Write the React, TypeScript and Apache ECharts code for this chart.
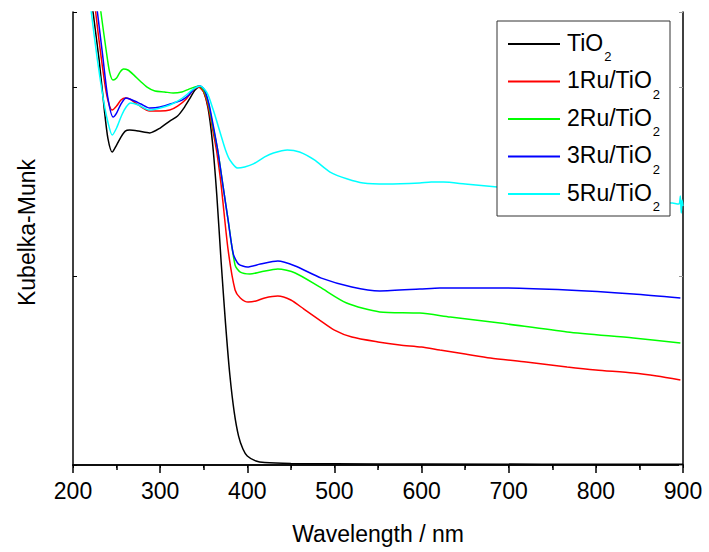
import React, { useEffect, useRef } from "react";
import * as echarts from "echarts";

// [wavelength (nm), Kubelka-Munk (a.u.)]
const tio2: [number, number][] = [
  [218, 2.619], [223, 2.397], [230, 2.143], [236, 1.878], [240, 1.73], [245, 1.656],
  [250, 1.693], [255, 1.735], [260, 1.767], [265, 1.772], [275, 1.767], [288, 1.757],
  [300, 1.783], [311, 1.82], [320, 1.847], [328, 1.894], [335, 1.947], [340, 1.984],
  [345, 2.0], [350, 1.974], [355, 1.889], [360, 1.709], [365, 1.429], [370, 1.074],
  [375, 0.751], [380, 0.476], [385, 0.28], [390, 0.153], [395, 0.085], [400, 0.048],
  [410, 0.021], [420, 0.013], [450, 0.008], [500, 0.006], [600, 0.005], [900, 0.004],
];

const ru1: [number, number][] = [
  [221, 2.619], [226, 2.397], [232, 2.169], [238, 1.974], [242, 1.899], [245, 1.878],
  [250, 1.899], [255, 1.931], [260, 1.942], [265, 1.937], [275, 1.905], [288, 1.873],
  [300, 1.873], [311, 1.878], [320, 1.899], [330, 1.937], [338, 1.984], [344, 2.0],
  [350, 1.974], [355, 1.899], [360, 1.783], [365, 1.656], [370, 1.481], [378, 1.138],
  [386, 0.926], [392, 0.884], [401, 0.862], [410, 0.868], [420, 0.884], [435, 0.894],
  [450, 0.873], [465, 0.825], [483, 0.767], [500, 0.714], [520, 0.677], [550, 0.651],
  [575, 0.635], [600, 0.624], [621, 0.608], [650, 0.587], [679, 0.566], [720, 0.545],
  [767, 0.519], [800, 0.503], [843, 0.487], [870, 0.471], [897, 0.45],
];

const ru2: [number, number][] = [
  [226, 2.619], [232, 2.397], [238, 2.196], [242, 2.079], [246, 2.037], [250, 2.048],
  [254, 2.079], [258, 2.095], [263, 2.09], [270, 2.063], [277, 2.032], [285, 2.0],
  [294, 1.979], [305, 1.974], [315, 1.968], [325, 1.974], [333, 1.989], [340, 2.0],
  [345, 2.005], [350, 1.984], [355, 1.921], [360, 1.804], [366, 1.667], [372, 1.481],
  [378, 1.296], [386, 1.058], [392, 1.021], [403, 1.011], [415, 1.021], [435, 1.037],
  [455, 1.016], [483, 0.942], [514, 0.857], [552, 0.81], [598, 0.804], [633, 0.783],
  [690, 0.751], [767, 0.704], [843, 0.672], [897, 0.646],
];

const ru3: [number, number][] = [
  [222, 2.619], [228, 2.397], [234, 2.169], [240, 1.942], [246, 1.841], [250, 1.862],
  [255, 1.91], [261, 1.942], [268, 1.931], [278, 1.91], [288, 1.889], [300, 1.894],
  [315, 1.915], [325, 1.931], [333, 1.958], [340, 1.995], [346, 2.005], [351, 1.984],
  [356, 1.91], [361, 1.794], [366, 1.667], [372, 1.481], [378, 1.296], [384, 1.116],
  [390, 1.063], [400, 1.048], [415, 1.063], [435, 1.079], [455, 1.053], [485, 0.989],
  [520, 0.942], [552, 0.921], [598, 0.931], [621, 0.937], [690, 0.937], [767, 0.926],
  [843, 0.905], [897, 0.884],
];

const ru5: [number, number][] = [
  [216, 2.619], [221, 2.397], [228, 2.143], [235, 1.931], [240, 1.815], [245, 1.746],
  [250, 1.783], [256, 1.852], [261, 1.894], [266, 1.915], [275, 1.905], [288, 1.878],
  [300, 1.889], [311, 1.905], [322, 1.931], [330, 1.958], [338, 1.989], [346, 2.005],
  [354, 1.968], [361, 1.878], [369, 1.757], [375, 1.667], [380, 1.614], [389, 1.571],
  [397, 1.577], [407, 1.593], [420, 1.63], [430, 1.651], [446, 1.667], [460, 1.656],
  [477, 1.614], [495, 1.55], [515, 1.513], [533, 1.492], [560, 1.487], [598, 1.492],
  [611, 1.497], [625, 1.497], [650, 1.487], [687, 1.471], [750, 1.444], [820, 1.413],
  [870, 1.392], [888, 1.386], [895, 1.381], [896, 1.386], [897, 1.423], [898, 1.333],
  [899, 1.402], [900, 1.37],
];

const seriesNames = ["TiO2", "1Ru/TiO2", "2Ru/TiO2", "3Ru/TiO2", "5Ru/TiO2"];
const seriesData = [tio2, ru1, ru2, ru3, ru5];
const seriesColors = ["#000000", "#ff0000", "#00ff00", "#0000ff", "#00ffff"];

const xTicks = { min: 200, max: 900, interval: 100 };
const yRange = { min: 0, max: 2.397, interval: 1 };

const FONT = "'Liberation Sans', Arial, Helvetica, sans-serif";

export default function App() {
  const ref = useRef<HTMLDivElement>(null);
  useEffect(() => {
    const chart = echarts.init(ref.current!, null, { renderer: "svg" });
    const axisLine = { show: true, lineStyle: { color: "#000", width: 1.5 } };
    chart.setOption({
      animation: false,
      backgroundColor: "#fff",
      textStyle: { fontFamily: FONT, color: "#000" },
      grid: { left: 73, right: 26, top: 12, bottom: 87, containLabel: false },
      legend: {
        orient: "vertical",
        left: 497,
        top: 21,
        backgroundColor: "#fff",
        borderColor: "#333",
        borderWidth: 1,
        borderRadius: 0,
        padding: [10, 10, 3, 11],
        itemGap: 5.5,
        itemWidth: 52,
        itemHeight: 2,
        icon: "rect",
        data: seriesNames,
        formatter: (name: string) => "{m|" + name.slice(0, -1) + "}{sub|2}",
        textStyle: {
          fontFamily: FONT,
          color: "#000",
          fontSize: 23,
          padding: [0, 0, 0, 2],
          rich: {
            m: { fontFamily: FONT, fontSize: 23, lineHeight: 26, verticalAlign: "top", color: "#000" },
            sub: { fontFamily: FONT, fontSize: 13, lineHeight: 20, verticalAlign: "top", padding: [19, 0, 0, 1], color: "#000" },
          },
        },
      },
      xAxis: [
        {
          type: "value",
          position: "bottom",
          min: xTicks.min,
          max: xTicks.max,
          interval: xTicks.interval,
          name: "Wavelength / nm",
          nameLocation: "middle",
          nameGap: 57,
          nameTextStyle: { fontSize: 23, fontFamily: FONT, color: "#000" },
          axisLine,
          axisTick: { show: true, inside: false, length: 8, lineStyle: { color: "#000", width: 1.5 } },
          minorTick: { show: true, splitNumber: 2, length: 5, lineStyle: { color: "#000", width: 1.5 } },
          axisLabel: { fontSize: 23, fontFamily: FONT, color: "#000", margin: 14 },
          splitLine: { show: false },
        },
        {
          type: "value",
          position: "top",
          min: xTicks.min,
          max: xTicks.max,
          interval: 50,
          axisLine,
          axisTick: { show: true, inside: true, length: 3, lineStyle: { color: "#000", width: 1 } },
          axisLabel: { show: false },
          splitLine: { show: false },
        },
      ],
      yAxis: [
        {
          type: "value",
          position: "left",
          min: yRange.min,
          max: yRange.max,
          interval: yRange.interval,
          name: "Kubelka-Munk",
          nameLocation: "middle",
          nameGap: 35,
          nameTextStyle: { fontSize: 23, fontFamily: FONT, color: "#000", padding: [0, 0, 0, 12] },
          axisLine,
          axisTick: { show: true, inside: true, length: 4, lineStyle: { color: "#000", width: 1 } },
          axisLabel: { show: false },
          splitLine: { show: false },
        },
        {
          type: "value",
          position: "right",
          min: yRange.min,
          max: yRange.max,
          interval: yRange.interval,
          axisLine,
          axisTick: { show: true, inside: true, length: 4, lineStyle: { color: "#999", width: 1 } },
          axisLabel: { show: false },
          splitLine: { show: false },
        },
      ],
      series: seriesNames.map((name, i) => ({
        name,
        type: "line",
        xAxisIndex: 0,
        yAxisIndex: 0,
        data: seriesData[i],
        showSymbol: false,
        symbol: "none",
        smooth: 0.25,
        clip: true,
        color: seriesColors[i],
        lineStyle: { color: seriesColors[i], width: 1.5 },
      })),
    });
    return () => chart.dispose();
  }, []);
  return <div ref={ref} style={{ position: "fixed", left: 0, top: 0, width: 709, height: 552 }} />;
}
